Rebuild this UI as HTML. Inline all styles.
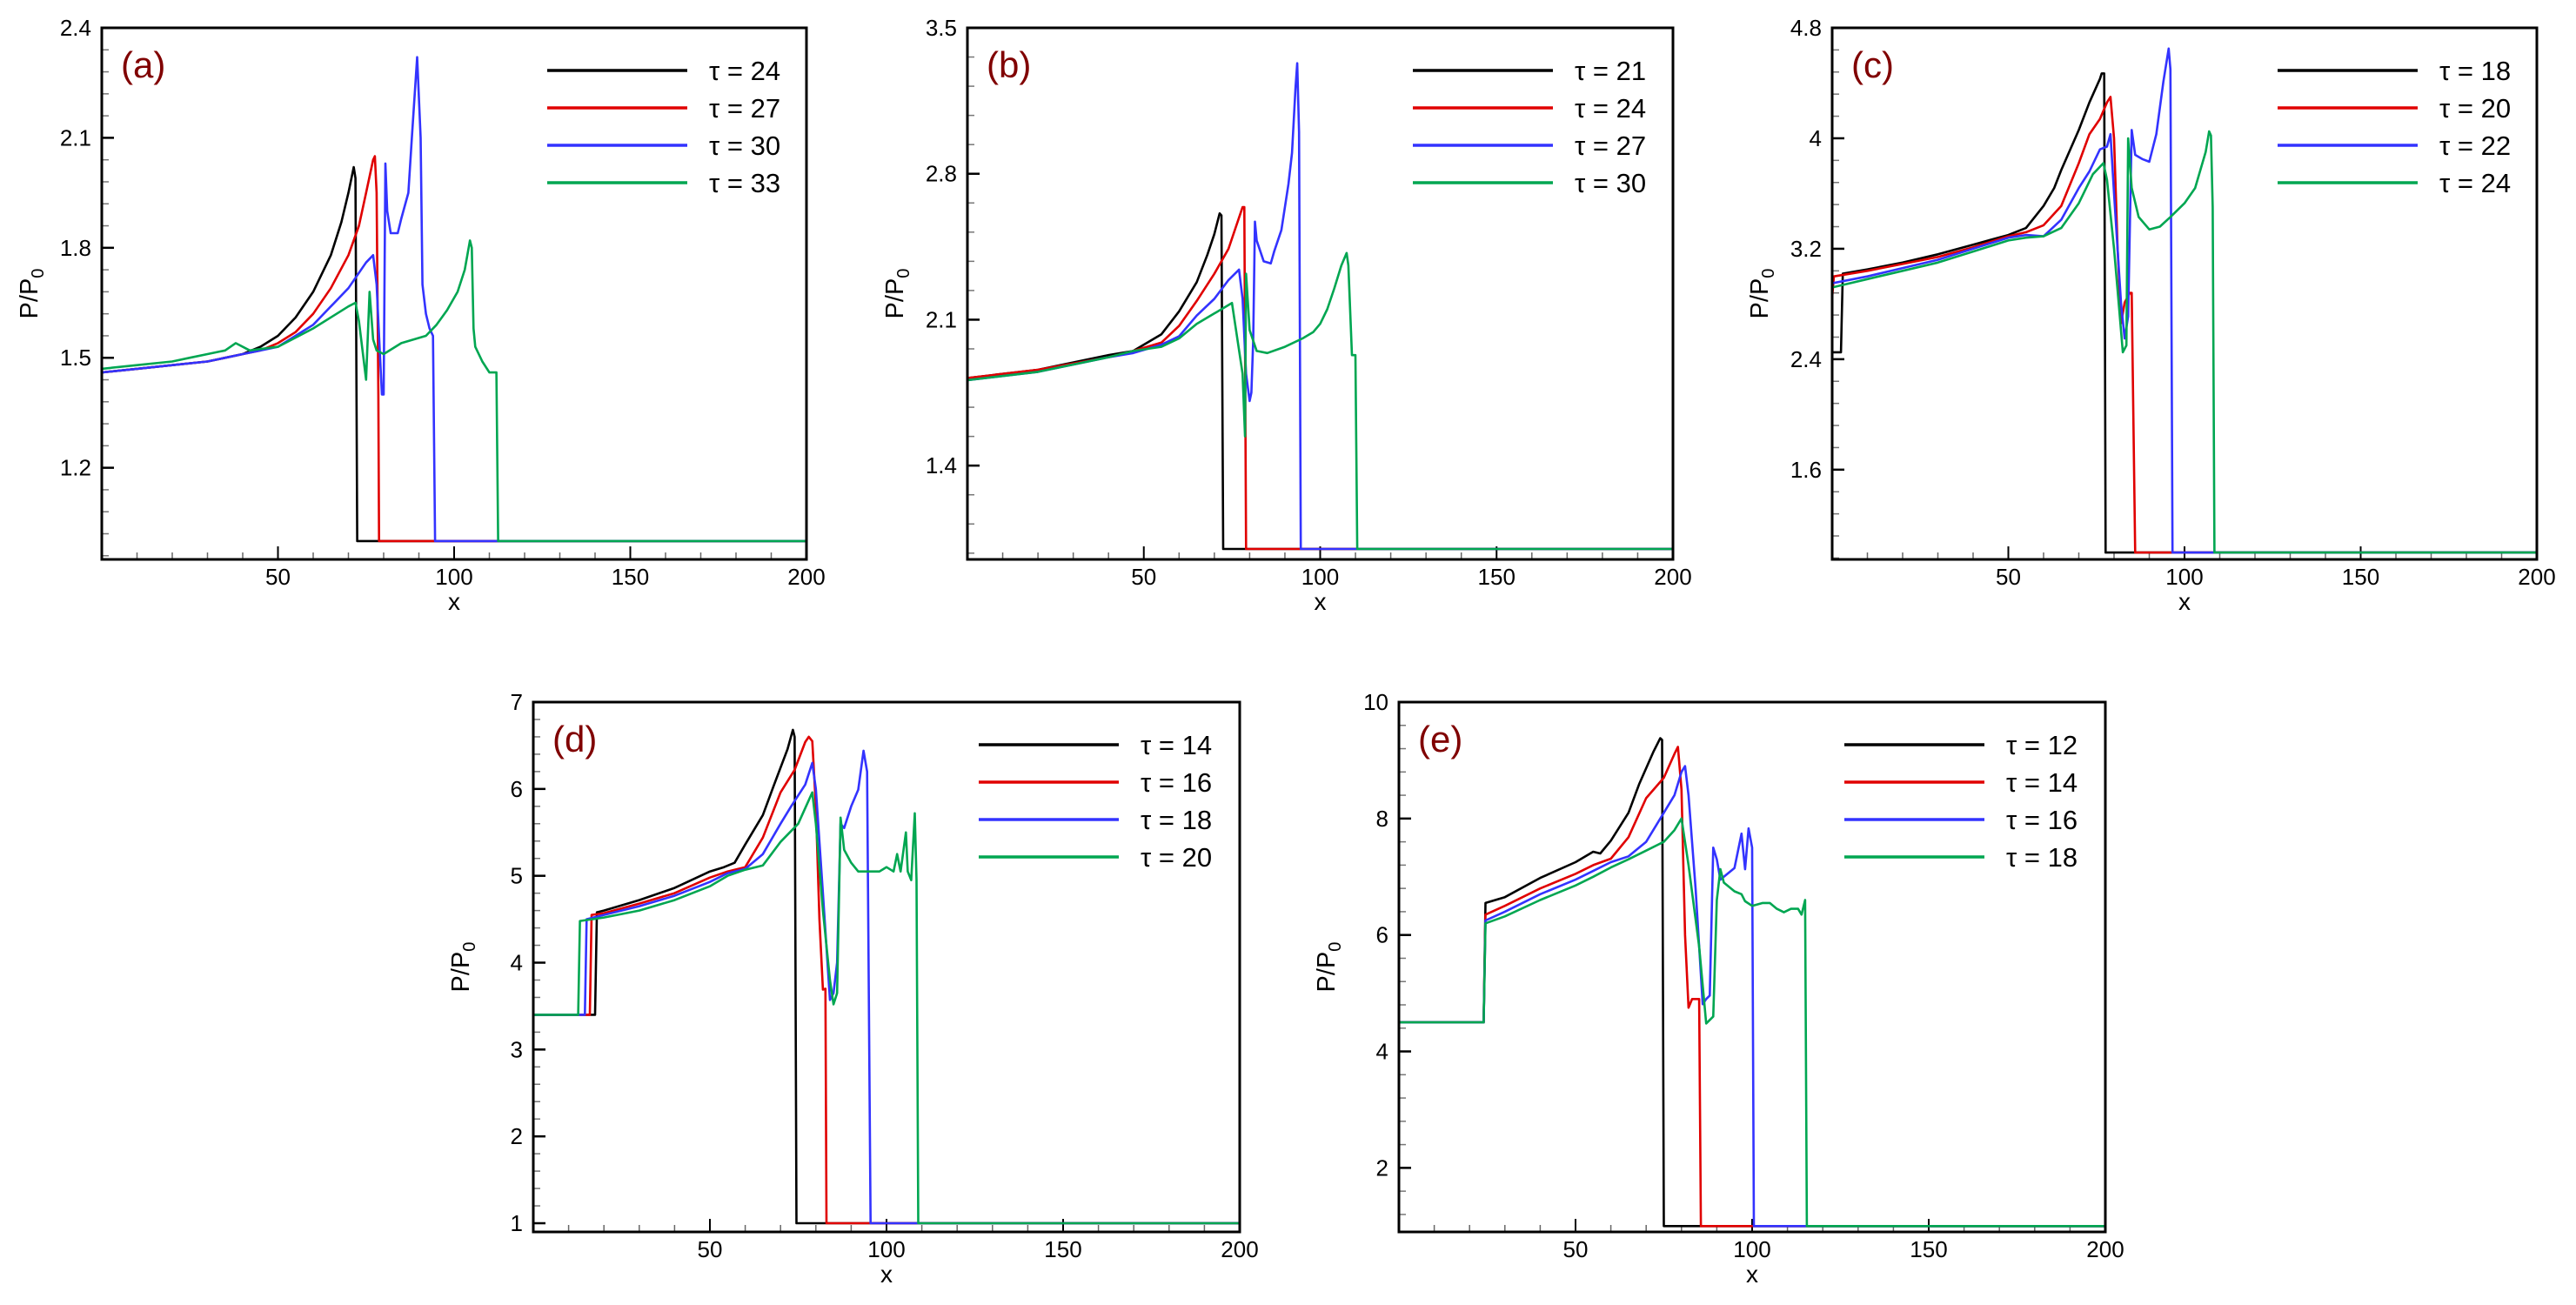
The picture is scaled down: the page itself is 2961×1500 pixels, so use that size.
<!DOCTYPE html>
<html><head><meta charset="utf-8"><title>P/P0 profiles</title>
<style>
html,body{margin:0;padding:0;background:#fff;}
svg{display:block;font-family:"Liberation Sans",Arial,sans-serif;}
</style></head>
<body>
<svg id="fig" width="2961" height="1500" viewBox="0 0 2961 1500" xmlns="http://www.w3.org/2000/svg"></svg>
<script>
// ---------- data ----------
const xTickLabels = ['50','100','150','200'];
const colors = ['#000000','#e00000','#3333ff','#00a651'];

const yTicksA = ['1.2','1.5','1.8','2.1','2.4'];
const tausA = [24,27,30,33];
const a24 = [[0,1.46],[10,1.47],[20,1.48],[30,1.49],[40,1.51],[45,1.53],[50,1.56],[55,1.61],[60,1.68],[65,1.78],[68,1.87],[70,1.95],[71.5,2.02],[72,1.99],[72.5,1.0],[200,1.0]];
const a27 = [[0,1.46],[10,1.47],[20,1.48],[30,1.49],[40,1.51],[45,1.52],[50,1.54],[55,1.57],[60,1.62],[65,1.69],[70,1.78],[73,1.86],[75,1.95],[77,2.04],[77.5,2.05],[78,1.95],[78.5,1.4],[78.7,1.0],[200,1.0]];
const a30 = [[0,1.46],[10,1.47],[20,1.48],[30,1.49],[40,1.51],[45,1.52],[50,1.53],[60,1.59],[70,1.69],[75,1.76],[77,1.78],[78,1.70],[79,1.50],[79.5,1.40],[80,1.40],[80.5,2.03],[81,1.90],[82,1.84],[84,1.84],[85,1.88],[87,1.95],[88,2.10],[89.5,2.32],[90.5,2.10],[91,1.70],[92,1.62],[93,1.58],[94,1.56],[94.6,1.0],[200,1.0]];
const a33 = [[0,1.47],[10,1.48],[20,1.49],[25,1.50],[30,1.51],[35,1.52],[38,1.54],[42,1.52],[50,1.53],[60,1.58],[70,1.64],[72,1.65],[73,1.60],[75,1.44],[76,1.68],[77,1.55],[78,1.52],[80,1.51],[85,1.54],[92,1.56],[95,1.59],[98,1.63],[101,1.68],[103,1.74],[104.5,1.82],[105,1.80],[105.5,1.58],[106,1.53],[108,1.49],[110,1.46],[112,1.46],[112.5,1.0],[200,1.0]];

const yTicksB = ['1.4','2.1','2.8','3.5'];
const tausB = [21,24,27,30];
const b21 = [[0,1.82],[20,1.86],[40,1.93],[47,1.95],[55,2.03],[60,2.14],[65,2.28],[68,2.41],[70,2.51],[71.5,2.61],[72,2.60],[72.5,1.0],[200,1.0]];
const b24 = [[0,1.82],[20,1.86],[40,1.92],[47,1.95],[55,1.99],[60,2.07],[65,2.19],[70,2.32],[74,2.44],[76,2.54],[78,2.64],[78.5,2.64],[79,1.0],[200,1.0]];
const b27 = [[0,1.81],[20,1.85],[40,1.92],[47,1.94],[55,1.98],[60,2.02],[65,2.12],[70,2.20],[74,2.29],[77,2.34],[78,2.20],[79,1.84],[80,1.71],[80.5,1.75],[81,2.0],[81.5,2.57],[82,2.48],[84,2.38],[86,2.37],[87,2.43],[89,2.53],[91,2.75],[92,2.90],[93,3.21],[93.5,3.33],[94,3.0],[94.5,1.0],[200,1.0]];
const b30 = [[0,1.81],[20,1.85],[40,1.92],[47,1.95],[55,1.97],[60,2.01],[65,2.08],[70,2.13],[75,2.18],[78,1.84],[78.7,1.54],[79,2.32],[80,2.05],[82,1.95],[85,1.94],[90,1.97],[95,2.01],[98,2.04],[100,2.08],[102,2.15],[104,2.25],[106,2.36],[107.5,2.42],[108,2.36],[109,1.93],[110,1.93],[110.5,1.0],[200,1.0]];

const yTicksC = ['1.6','2.4','3.2','4','4.8'];
const tausC = [18,20,22,24];
const c18 = [[0,2.45],[2.5,2.45],[3,3.02],[10,3.05],[20,3.10],[30,3.16],[40,3.23],[50,3.30],[55,3.35],[60,3.51],[63,3.64],[65,3.77],[70,4.06],[73,4.26],[76,4.43],[76.5,4.47],[77.2,4.47],[77.6,1.0],[200,1.0]];
const c20 = [[0,2.85],[0.5,3.0],[10,3.04],[20,3.09],[30,3.14],[40,3.21],[50,3.29],[55,3.32],[60,3.37],[65,3.51],[70,3.82],[73,4.03],[76,4.14],[78,4.26],[79,4.30],[80,4.0],[81,3.2],[82,2.66],[83,2.81],[84.5,2.88],[85,2.88],[86,1.0],[200,1.0]];
const c22 = [[0,2.95],[10,3.0],[20,3.06],[30,3.12],[40,3.2],[50,3.28],[55,3.3],[60,3.29],[65,3.41],[70,3.64],[73,3.76],[76,3.92],[78,3.94],[79,4.03],[80,3.6],[82,2.8],[83,2.55],[84,2.71],[85,4.06],[86,3.88],[88,3.85],[90,3.83],[92,4.03],[94,4.41],[95.5,4.65],[96,4.5],[96.6,1.0],[200,1.0]];
const c24 = [[0,2.92],[10,2.98],[20,3.04],[30,3.1],[40,3.18],[50,3.26],[55,3.28],[60,3.29],[65,3.35],[70,3.53],[74,3.74],[77,3.82],[78,3.7],[80,3.2],[81.5,2.75],[82.5,2.45],[83.5,2.5],[84,4.0],[85,3.64],[87,3.43],[90,3.34],[93,3.36],[96,3.43],[100,3.53],[103,3.64],[106,3.9],[107,4.05],[107.5,4.02],[108,3.5],[108.5,1.0],[200,1.0]];

const yTicksD = ['1','2','3','4','5','6','7'];
const tausD = [14,16,18,20];
const d14 = [[0,3.4],[17.5,3.4],[18,4.58],[20,4.6],[30,4.72],[40,4.86],[50,5.05],[54,5.1],[57,5.15],[60,5.36],[65,5.70],[68,6.03],[72,6.46],[73.5,6.68],[74,6.6],[74.5,1.0],[200,1.0]];
const d16 = [[0,3.4],[16,3.4],[16.5,4.55],[20,4.57],[30,4.68],[40,4.8],[50,4.98],[55,5.05],[60,5.1],[65,5.44],[70,5.96],[74,6.22],[77,6.54],[78,6.6],[79,6.55],[80,5.8],[81,4.5],[82,3.69],[82.7,3.7],[83,1.0],[200,1.0]];
const d18 = [[0,3.4],[14.6,3.4],[15.1,4.5],[20,4.55],[30,4.65],[40,4.77],[50,4.93],[55,5.03],[60,5.08],[65,5.25],[70,5.6],[73,5.8],[77,6.05],[79,6.3],[80,6.0],[82,4.8],[84,3.57],[85,3.65],[86,4.0],[87,5.6],[88,5.55],[90,5.8],[92,5.99],[93.5,6.44],[94.5,6.2],[95.5,1.0],[200,1.0]];
const d20 = [[0,3.4],[12.7,3.4],[13.2,4.48],[20,4.52],[30,4.6],[40,4.72],[50,4.88],[55,5.0],[60,5.07],[65,5.12],[70,5.39],[75,5.6],[79,5.96],[80,5.6],[82,4.6],[84,3.8],[85,3.52],[86,3.65],[87,5.67],[88,5.3],[90,5.15],[92,5.05],[95,5.05],[98,5.05],[100,5.1],[102,5.05],[103,5.25],[104,5.05],[105.5,5.5],[106,5.05],[107,4.95],[108,5.72],[108.5,4.95],[109,1.0],[200,1.0]];

const yTicksE = ['2','4','6','8','10'];
const tausE = [12,14,16,18];
const e12 = [[0,4.5],[24,4.5],[24.5,6.55],[30,6.65],[40,6.98],[50,7.25],[55,7.43],[57,7.4],[60,7.62],[65,8.1],[68,8.59],[72,9.14],[74,9.38],[74.5,9.35],[75,1.0],[200,1.0]];
const e14 = [[0,4.5],[24,4.5],[24.5,6.35],[30,6.5],[40,6.8],[50,7.05],[55,7.2],[60,7.31],[65,7.68],[70,8.35],[75,8.7],[78,9.11],[79,9.23],[80,8.5],[81,6.0],[82,4.75],[83,4.9],[85,4.9],[85.5,1.0],[200,1.0]];
const e16 = [[0,4.5],[24,4.5],[24.5,6.25],[30,6.4],[40,6.7],[50,6.95],[55,7.1],[60,7.25],[65,7.35],[70,7.6],[75,8.1],[78,8.4],[80,8.8],[81,8.9],[82,8.4],[84,6.8],[86,4.81],[87,4.9],[88,4.96],[89,7.5],[90,7.3],[91,6.95],[92,7.0],[95,7.15],[97,7.74],[98,7.13],[99,7.83],[100,7.5],[100.5,1.0],[200,1.0]];
const e18 = [[0,4.5],[24,4.5],[24.5,6.2],[30,6.32],[40,6.6],[50,6.85],[55,7.0],[60,7.16],[65,7.3],[70,7.45],[75,7.6],[78,7.8],[80,8.0],[82,7.2],[85,5.8],[87,4.48],[89,4.6],[90,6.6],[91,7.13],[92,6.9],[95,6.75],[97,6.7],[98,6.58],[100,6.5],[103,6.55],[105,6.55],[107,6.45],[109,6.39],[111,6.45],[113,6.45],[114,6.35],[115,6.6],[115.5,1.0],[200,1.0]];

// ---------- layout ----------
const panels = [
 {id:'a',L:117,R:927,T:32,B:643,ymin:0.95,ymax:2.4,minor:0.06,ticks:yTicksA,taus:tausA,series:[a24,a27,a30,a33]},
 {id:'b',L:1112,R:1923,T:32,B:643,ymin:0.95,ymax:3.5,minor:0.14,ticks:yTicksB,taus:tausB,series:[b21,b24,b27,b30]},
 {id:'c',L:2106,R:2916,T:32,B:643,ymin:0.95,ymax:4.8,minor:0.16,ticks:yTicksC,taus:tausC,series:[c18,c20,c22,c24]},
 {id:'d',L:613,R:1425,T:807,B:1416,ymin:0.9,ymax:7,minor:0.2,ticks:yTicksD,taus:tausD,series:[d14,d16,d18,d20]},
 {id:'e',L:1608,R:2420,T:807,B:1416,ymin:0.9,ymax:10,minor:0.4,ticks:yTicksE,taus:tausE,series:[e12,e14,e16,e18]}
];
const NS='http://www.w3.org/2000/svg';
const svg=document.getElementById('fig');
function mk(tag,attrs,parent){const el=document.createElementNS(NS,tag);for(const k in attrs)el.setAttribute(k,attrs[k]);(parent||svg).appendChild(el);return el;}

panels.forEach(p=>{
  const g=mk('g',{});
  
  
  const sx=v=>p.L+v/200*(p.R-p.L);
  const sy=v=>p.B-(v-p.ymin)/(p.ymax-p.ymin)*(p.B-p.T);
  const defs=mk('defs',{},g);
  const cp=mk('clipPath',{id:'clip-'+p.id},defs);
  mk('rect',{x:p.L,y:p.T,width:p.R-p.L,height:p.B-p.T},cp);
  // x ticks
  for(let v=10;v<200;v+=10){
    const major=v%50===0;
    const t=mk('line',{x1:sx(v),x2:sx(v),y1:p.B,y2:p.B-(major?15:8),stroke:major?'#000':'#666','stroke-width':major?2:1.5},g);
    
    
  }
  xTickLabels.forEach(s=>{
    const t=mk('text',{x:sx(+s),y:p.B+29,'font-size':26,'text-anchor':'middle',fill:'#000'},g);
    t.textContent=s;
    
    
  });
  // y ticks
  const m0=+p.ticks[0];
  for(let k=-20;k<200;k++){
    const v=m0+k*p.minor;
    if(v<p.ymin-1e-9||v>p.ymax+1e-9)continue;
    const major=(k%5===0);
    const t=mk('line',{x1:p.L,x2:p.L+(major?14:8),y1:sy(v),y2:sy(v),stroke:major?'#000':'#777','stroke-width':major?2.5:1.5},g);
    
    
  }
  p.ticks.forEach(s=>{
    const t=mk('text',{x:p.L-12,y:sy(+s)+9,'font-size':26,'text-anchor':'end',fill:'#000'},g);
    t.textContent=s;
    
    
  });
  // series
  const sg=mk('g',{'clip-path':'url(#clip-'+p.id+')'},g);
  p.series.forEach((data,i)=>{
    const d=data.map((pt,j)=>(j?'L':'M')+sx(pt[0]).toFixed(1)+' '+sy(pt[1]).toFixed(1)).join(' ');
    const path=mk('path',{d:d,fill:'none',stroke:colors[i],'stroke-width':2.6,'stroke-linejoin':'round'},sg);
    
    
  });
  // frame
  const fr=mk('rect',{x:p.L,y:p.T,width:p.R-p.L,height:p.B-p.T,fill:'none',stroke:'#000','stroke-width':3},g);
  
  
  // legend
  p.taus.forEach((tau,i)=>{
    const y=p.T+49+i*43;
    const ln=mk('line',{x1:p.L+512,x2:p.L+673,y1:y,y2:y,stroke:colors[i],'stroke-width':3.5},g);
    
    
    const t=mk('text',{x:p.L+698,y:y+11,'font-size':31,fill:'#000'},g);
    t.textContent='\u03C4 = '+tau;
    
    
  });
  // panel label
  const pl=mk('text',{x:p.L+22,y:p.T+57,'font-size':42,fill:'#800000'},g);
  pl.textContent='('+p.id+')';
  
  
  // axis titles
  const xt=mk('text',{x:(p.L+p.R)/2,y:p.B+58,'font-size':28,'text-anchor':'middle',fill:'#000'},g);
  xt.textContent='x';
  
  
  const cy=(p.T+p.B)/2, cx=p.L-74;
  const yt=mk('text',{x:cx,y:cy,'font-size':29,'text-anchor':'middle',fill:'#000',transform:'rotate(-90 '+cx+' '+cy+')'},g);
  
  
  yt.appendChild(document.createTextNode('P/P'));
  const sub=mk('tspan',{'font-size':20,dy:7},yt);
  sub.textContent='0';
});
</script>
</body></html>
